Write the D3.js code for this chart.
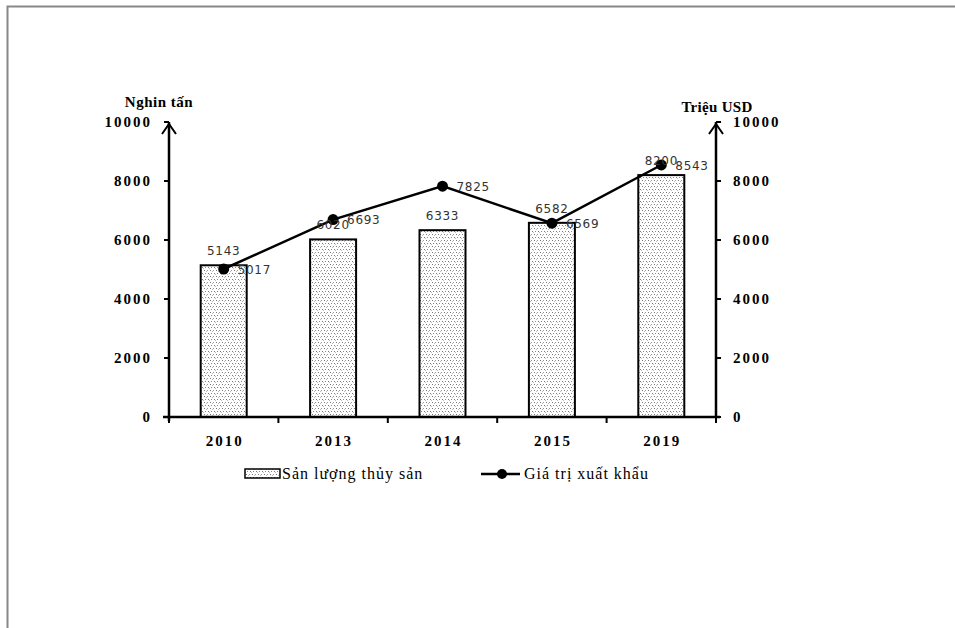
<!DOCTYPE html>
<html><head><meta charset="utf-8">
<script src="https://cdn.jsdelivr.net/npm/d3@7"></script>
<style>body{margin:0;background:#fff}svg{display:block}</style>
</head><body>
<svg id="c" width="955" height="628"></svg>
<script>
const years = ["2010","2013","2014","2015","2019"];
const production = [5143, 6020, 6333, 6582, 8200];
const exportValue = [5017, 6693, 7825, 6569, 8543];
const yTicks = [0, 2000, 4000, 6000, 8000, 10000];
const leftTitle = "Nghin tấn";
const rightTitle = "Triệu USD";
const legendBar = "Sản lượng thủy sản";
const legendLine = "Giá trị xuất khẩu";

const svg = d3.select("#c");
const serif = "'Liberation Serif', 'Times New Roman', serif";
const sans = "'DejaVu Sans', sans-serif";

// frame
svg.append("path").attr("d","M7.5,628 V6.5 H955").attr("fill","none").attr("stroke","#888").attr("stroke-width",2);

const defs = svg.append("defs");
const pat = defs.append("pattern").attr("id","dots").attr("patternUnits","userSpaceOnUse").attr("width",6).attr("height",6);
pat.append("rect").attr("width",6).attr("height",6).attr("fill","#fff");
[[0,0,"#777"],[3,0,"#999"],[1,3,"#888"],[4,3,"#777"],[2,1,"#bbb"],[5,4,"#bbb"]].forEach(p =>
  pat.append("rect").attr("x",p[0]).attr("y",p[1]).attr("width",1).attr("height",1).attr("fill",p[2]));

const L = 169, R = 716, T = 122, B = 417;
const x = d3.scaleBand().domain(years).range([L, R]);
const yL = d3.scaleLinear().domain([0, 10000]).range([B, T]);
const yR = d3.scaleLinear().domain([0, 10000]).range([B, T]);

// bars
const bw = 46;
svg.selectAll("rect.bar").data(years).enter().append("rect")
  .attr("x", d => x(d) + x.bandwidth()/2 - bw/2)
  .attr("y", (d,i) => yL(production[i]))
  .attr("width", bw)
  .attr("height", (d,i) => B - yL(production[i]))
  .attr("fill","url(#dots)").attr("stroke","#000").attr("stroke-width",2);

// axes
const g = svg.append("g").attr("stroke","#000").attr("stroke-width",2.5).attr("fill","none");
g.append("line").attr("x1",L).attr("x2",L).attr("y1",B+4).attr("y2",T);
g.append("line").attr("x1",R).attr("x2",R).attr("y1",B).attr("y2",T);
g.append("line").attr("x1",L-6).attr("x2",R+4).attr("y1",B).attr("y2",B);
// arrows
g.append("path").attr("d",`M${L-7},${T+12} L${L},${T+2} L${L+7},${T+12}`).attr("stroke-width",2);
g.append("path").attr("d",`M${R-7},${T+12} L${R},${T+2} L${R+7},${T+12}`).attr("stroke-width",2);
// y ticks
yTicks.forEach(t => {
  g.append("line").attr("x1",L-5).attr("x2",L).attr("y1",yL(t)).attr("y2",yL(t)).attr("stroke-width",2);
  g.append("line").attr("x1",R).attr("x2",R+5).attr("y1",yR(t)).attr("y2",yR(t)).attr("stroke-width",2);
});
// x ticks at band boundaries
const bounds = years.map(d => x(d)).concat([R]);
bounds.forEach(b => g.append("line").attr("x1",b).attr("x2",b).attr("y1",B).attr("y2",B+6).attr("stroke-width",2));

// tick labels
const tl = svg.append("g").attr("font-family",serif).attr("font-weight","bold").attr("font-size",15).attr("fill","#000");
yTicks.forEach(t => {
  tl.append("text").attr("x",152).attr("y",yL(t)).attr("dy","0.35em").attr("text-anchor","end").attr("letter-spacing","2px").text(t);
  tl.append("text").attr("x",733).attr("y",yR(t)).attr("dy","0.35em").attr("text-anchor","start").attr("letter-spacing","2px").text(t);
});
years.forEach(d => tl.append("text").attr("x",x(d)+x.bandwidth()/2+1).attr("y",446).attr("text-anchor","middle").attr("letter-spacing","2px").text(d));
tl.append("text").attr("x",159).attr("y",107).attr("text-anchor","middle").attr("letter-spacing","0.5px").text(leftTitle);
tl.append("text").attr("x",717).attr("y",112).attr("text-anchor","middle").attr("letter-spacing","0.3px").text(rightTitle);

// line
const line = d3.line().x((d,i) => x(years[i]) + x.bandwidth()/2).y(d => yR(d));
svg.append("path").datum(exportValue).attr("d",line).attr("fill","none").attr("stroke","#000").attr("stroke-width",2.5);
svg.selectAll("circle.pt").data(exportValue).enter().append("circle")
  .attr("cx",(d,i) => x(years[i]) + x.bandwidth()/2).attr("cy", d => yR(d)).attr("r",5.5).attr("fill","#000");

// data labels
const dl = svg.append("g").attr("font-family",sans).attr("font-size",12).attr("fill","#333");
production.forEach((v,i) => dl.append("text").attr("x",x(years[i])+x.bandwidth()/2).attr("y",yL(v)-10).attr("text-anchor","middle").attr("letter-spacing","0.7px").text(v));
exportValue.forEach((v,i) => dl.append("text").attr("x",x(years[i])+x.bandwidth()/2+14).attr("y",yR(v)).attr("dy","0.38em").attr("letter-spacing","0.7px").text(v));

// legend
const lg = svg.append("g").attr("font-family",serif).attr("font-size",16).attr("fill","#000");
lg.append("rect").attr("x",245).attr("y",469).attr("width",35).attr("height",9).attr("fill","url(#dots)").attr("stroke","#000").attr("stroke-width",1.5);
lg.append("text").attr("x",282).attr("y",479).attr("letter-spacing","1px").text(legendBar);
lg.append("line").attr("x1",481).attr("x2",520).attr("y1",474).attr("y2",474).attr("stroke","#000").attr("stroke-width",2.5);
lg.append("circle").attr("cx",502).attr("cy",474).attr("r",5).attr("fill","#000");
lg.append("text").attr("x",524).attr("y",479).attr("letter-spacing","1px").text(legendLine);
</script>
</body></html>
